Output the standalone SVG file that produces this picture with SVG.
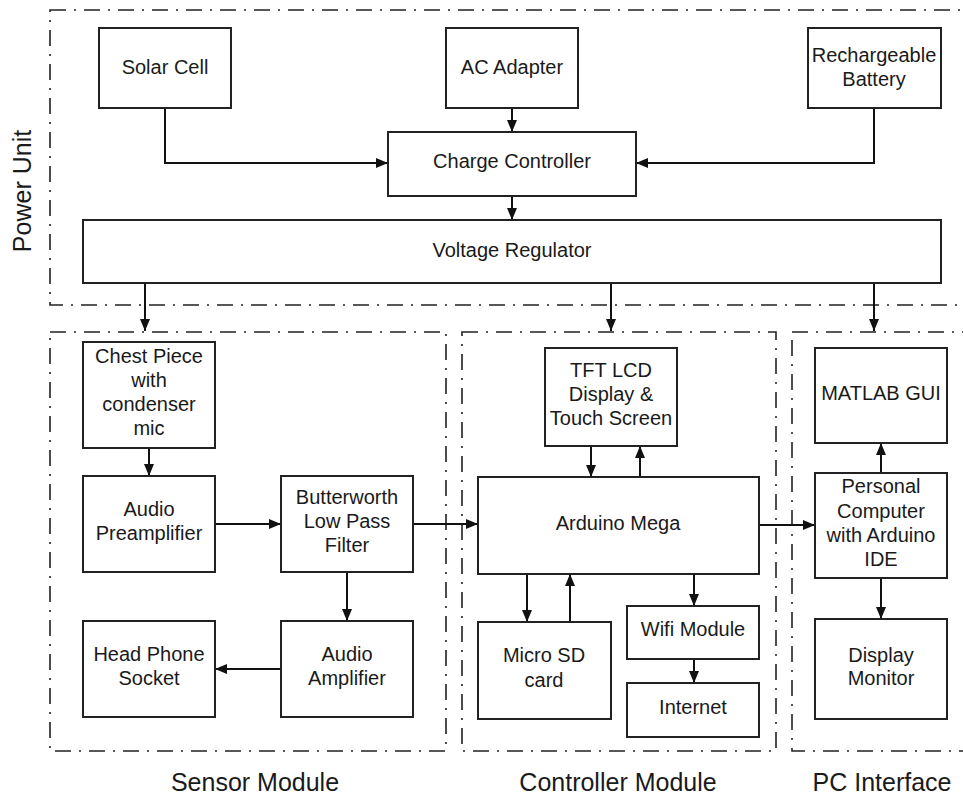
<svg xmlns="http://www.w3.org/2000/svg" width="963" height="796" viewBox="0 0 963 796">
<style>
.bg{fill:#fff}
.box{fill:#fff;stroke:#222;stroke-width:2}
.grp{fill:none;stroke:#222;stroke-width:1.6;stroke-dasharray:16 8 2 8}
.t{font-family:"Liberation Sans",Arial,sans-serif;font-size:20px;fill:#1a1a1a;text-anchor:middle}
.lbl{font-family:"Liberation Sans",Arial,sans-serif;font-size:25px;fill:#1a1a1a;text-anchor:middle}
.c{fill:none;stroke:#111;stroke-width:2}
</style>
<defs>
<marker id="ah" markerUnits="userSpaceOnUse" markerWidth="12" markerHeight="10" refX="12" refY="5" orient="auto">
<path d="M0,0 L12,5 L0,10 z" fill="#111"/>
</marker>
</defs>
<rect class="bg" x="0" y="0" width="963" height="796"/>
<g id="groups">
<rect id="power-unit" class="grp" x="50" y="10" width="930" height="295"/>
<rect id="sensor-module" class="grp" x="50" y="332" width="396" height="419"/>
<rect id="controller-module" class="grp" x="462" y="332" width="314" height="419"/>
<rect id="pc-interface" class="grp" x="792" y="332" width="188" height="419"/>
<text class="lbl" transform="translate(31,191) rotate(-90)">Power Unit</text>
<text class="lbl" x="255" y="791">Sensor Module</text>
<text class="lbl" x="618" y="791">Controller Module</text>
<text class="lbl" x="882" y="791">PC Interface</text>
</g>
<g id="connectors">
<path class="c" d="M165,108 V163 H388" marker-end="url(#ah)"/>
<path class="c" d="M512,108 V132" marker-end="url(#ah)"/>
<path class="c" d="M874,108 V163 H636" marker-end="url(#ah)"/>
<path class="c" d="M512,196 V220" marker-end="url(#ah)"/>
<path class="c" d="M145,283 V331" marker-end="url(#ah)"/>
<path class="c" d="M611,283 V331" marker-end="url(#ah)"/>
<path class="c" d="M874,283 V331" marker-end="url(#ah)"/>
<path class="c" d="M149,448 V476" marker-end="url(#ah)"/>
<path class="c" d="M215,524 H281" marker-end="url(#ah)"/>
<path class="c" d="M347,572 V621" marker-end="url(#ah)"/>
<path class="c" d="M281,669 H215" marker-end="url(#ah)"/>
<path class="c" d="M413,524 H478" marker-end="url(#ah)"/>
<path class="c" d="M591,446 V477" marker-end="url(#ah)"/>
<path class="c" d="M640,477 V446" marker-end="url(#ah)"/>
<path class="c" d="M527,574 V622" marker-end="url(#ah)"/>
<path class="c" d="M570,622 V574" marker-end="url(#ah)"/>
<path class="c" d="M694,574 V606" marker-end="url(#ah)"/>
<path class="c" d="M694,659 V683" marker-end="url(#ah)"/>
<path class="c" d="M759,525 H815" marker-end="url(#ah)"/>
<path class="c" d="M881,473 V443" marker-end="url(#ah)"/>
<path class="c" d="M881,578 V619" marker-end="url(#ah)"/>
</g>
<g id="solar-cell"><rect class="box" x="99" y="28" width="132" height="80"/><text class="t" x="165" y="74">Solar Cell</text></g>
<g id="ac-adapter"><rect class="box" x="446" y="28" width="132" height="80"/><text class="t" x="512" y="74">AC Adapter</text></g>
<g id="rechargeable-battery"><rect class="box" x="808" y="28" width="133" height="80"/><text class="t" x="874" y="62">Rechargeable</text><text class="t" x="874" y="86">Battery</text></g>
<g id="charge-controller"><rect class="box" x="388" y="132" width="248" height="64"/><text class="t" x="512" y="168">Charge Controller</text></g>
<g id="voltage-regulator"><rect class="box" x="83" y="220" width="858" height="63"/><text class="t" x="512" y="257">Voltage Regulator</text></g>
<g id="chest-piece"><rect class="box" x="83" y="342" width="132" height="106"/><text class="t" x="149" y="363">Chest Piece</text><text class="t" x="149" y="387">with</text><text class="t" x="149" y="411">condenser</text><text class="t" x="149" y="435">mic</text></g>
<g id="audio-preamplifier"><rect class="box" x="83" y="476" width="132" height="96"/><text class="t" x="149" y="516">Audio</text><text class="t" x="149" y="540">Preamplifier</text></g>
<g id="butterworth"><rect class="box" x="281" y="476" width="132" height="96"/><text class="t" x="347" y="504">Butterworth</text><text class="t" x="347" y="528">Low Pass</text><text class="t" x="347" y="552">Filter</text></g>
<g id="head-phone-socket"><rect class="box" x="83" y="621" width="132" height="96"/><text class="t" x="149" y="661">Head Phone</text><text class="t" x="149" y="685">Socket</text></g>
<g id="audio-amplifier"><rect class="box" x="281" y="621" width="132" height="96"/><text class="t" x="347" y="661">Audio</text><text class="t" x="347" y="685">Amplifier</text></g>
<g id="tft-lcd"><rect class="box" x="545" y="348" width="132" height="98"/><text class="t" x="611" y="377">TFT LCD</text><text class="t" x="611" y="401">Display &amp;</text><text class="t" x="611" y="425">Touch Screen</text></g>
<g id="arduino-mega"><rect class="box" x="478" y="477" width="281" height="97"/><text class="t" x="618" y="530">Arduino Mega</text></g>
<g id="micro-sd"><rect class="box" x="478" y="622" width="133" height="97"/><text class="t" x="544" y="662">Micro SD</text><text class="t" x="544" y="687">card</text></g>
<g id="wifi-module"><rect class="box" x="627" y="606" width="132" height="53"/><text class="t" x="693" y="636">Wifi Module</text></g>
<g id="internet"><rect class="box" x="627" y="683" width="132" height="54"/><text class="t" x="693" y="714">Internet</text></g>
<g id="matlab-gui"><rect class="box" x="815" y="348" width="132" height="95"/><text class="t" x="881" y="400">MATLAB GUI</text></g>
<g id="personal-computer"><rect class="box" x="815" y="473" width="132" height="105"/><text class="t" x="881" y="493">Personal</text><text class="t" x="881" y="518">Computer</text><text class="t" x="881" y="542">with Arduino</text><text class="t" x="881" y="566">IDE</text></g>
<g id="display-monitor"><rect class="box" x="815" y="619" width="132" height="100"/><text class="t" x="881" y="662">Display</text><text class="t" x="881" y="685">Monitor</text></g>
</svg>
